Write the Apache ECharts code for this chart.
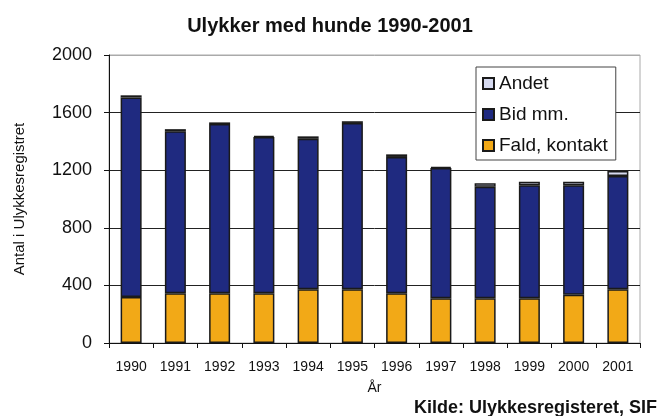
<!DOCTYPE html>
<html>
<head>
<meta charset="utf-8">
<script src="https://cdn.jsdelivr.net/npm/echarts@6/dist/echarts.min.js"></script>
<style>
  html, body { margin: 0; padding: 0; background: #fff; }
  #chart { width: 660px; height: 416px; }
</style>
</head>
<body>
<div id="chart"></div>
<script>
var years = ['1990', '1991', '1992', '1993', '1994', '1995', '1996', '1997', '1998', '1999', '2000', '2001'];
var fald = [320, 345, 345, 345, 373, 373, 345, 310, 310, 310, 335, 373];
var bid = [1385, 1125, 1175, 1085, 1045, 1155, 947, 905, 775, 785, 760, 787];
var andet = [15, 15, 12, 8, 17, 12, 18, 8, 25, 25, 25, 35];
var yTicks = [0, 400, 800, 1200, 1600, 2000];

var chart = echarts.init(document.getElementById('chart'));
var font = 'Liberation Sans, Arial, sans-serif';
var barBorder = { borderColor: '#1a1a1a', borderWidth: 1.5 };

chart.setOption({
    animation: false,
    textStyle: { fontFamily: font },
    title: {
        text: 'Ulykker med hunde 1990-2001',
        left: 'center',
        top: 11,
        textStyle: { fontSize: 20, fontWeight: 'bold', color: '#111', fontFamily: font }
    },
    graphic: [{
        type: 'text',
        right: 3,
        top: 399,
        style: { text: 'Kilde: Ulykkesregisteret, SIF', font: 'bold 18px Liberation Sans, Arial', fill: '#111' }
    }],
    legend: {
        data: ['Andet', 'Bid mm.', 'Fald, kontakt'],
        orient: 'vertical',
        left: 476,
        top: 67,
        padding: [7, 8, 5, 6],
        itemGap: 12,
        itemWidth: 11,
        itemHeight: 11,
        icon: 'rect',
        backgroundColor: '#fff',
        borderColor: '#444',
        borderWidth: 1,
        textStyle: { fontSize: 19, lineHeight: 19, color: '#111' }
    },
    grid: {
        left: 109,
        right: 20,
        top: 55,
        bottom: 73,
        show: true,
        borderColor: '#aaa',
        borderWidth: 1
    },
    xAxis: {
        type: 'category',
        data: years,
        name: 'År',
        nameLocation: 'middle',
        nameGap: 38,
        nameTextStyle: { fontSize: 14, color: '#111' },
        axisLine: { lineStyle: { color: '#111', width: 1 } },
        axisTick: { show: true, length: 5, lineStyle: { color: '#111' } },
        axisLabel: { fontSize: 14, color: '#111', margin: 17 }
    },
    yAxis: {
        type: 'value',
        min: yTicks[0],
        max: yTicks[yTicks.length - 1],
        interval: 400,
        name: 'Antal i Ulykkesregistret',
        nameLocation: 'middle',
        nameGap: 82,
        nameRotate: 90,
        nameTextStyle: { fontSize: 15, color: '#111' },
        axisLine: { show: true, lineStyle: { color: '#111', width: 1 } },
        axisTick: { show: true, length: 5, lineStyle: { color: '#111' } },
        axisLabel: { fontSize: 18, color: '#111', margin: 17, formatter: function (v) { return String(v); } },
        splitLine: { lineStyle: { color: ['#222', '#222', '#222', '#222', '#222', '#aaa'], width: 1 } }
    },
    series: [{
        name: 'Fald, kontakt',
        type: 'bar',
        stack: 'total',
        barWidth: 21,
        data: fald,
        itemStyle: Object.assign({ color: '#F2A917' }, barBorder)
    }, {
        name: 'Bid mm.',
        type: 'bar',
        stack: 'total',
        barWidth: 21,
        data: bid,
        itemStyle: Object.assign({ color: '#1F2A80' }, barBorder)
    }, {
        name: 'Andet',
        type: 'bar',
        stack: 'total',
        barWidth: 21,
        data: andet,
        itemStyle: Object.assign({ color: '#D6DAF0' }, barBorder)
    }]
});
window.onresize = chart.resize;
</script>
</body>
</html>
